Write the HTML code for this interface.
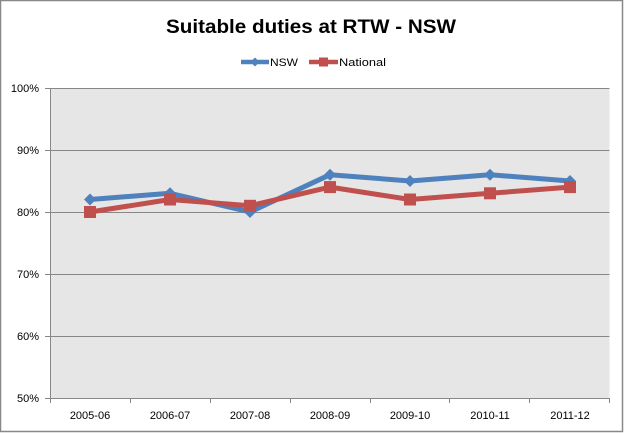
<!DOCTYPE html>
<html><head><meta charset="utf-8"><style>
html,body{margin:0;padding:0;background:#fff;}
svg{display:block;}
text{font-family:"Liberation Sans",sans-serif;}
</style></head><body>
<svg width="625" height="433" viewBox="0 0 625 433" xmlns="http://www.w3.org/2000/svg">
<rect x="0.5" y="0.5" width="622" height="431" fill="#fff" stroke="#888" stroke-width="1.5"/>
<text x="311" y="33" text-anchor="middle" font-size="19" font-weight="bold" fill="#000" textLength="290" lengthAdjust="spacingAndGlyphs">Suitable duties at RTW - NSW</text>
<!-- legend -->
<line x1="241" y1="62" x2="269" y2="62" stroke="#4F81BD" stroke-width="4.5"/>
<path d="M255 57.5 L259.5 62 L255 66.5 L250.5 62Z" fill="#4F81BD"/>
<text x="270" y="66" font-size="11" fill="#000" textLength="28" lengthAdjust="spacingAndGlyphs">NSW</text>
<line x1="309" y1="62" x2="338" y2="62" stroke="#C0504D" stroke-width="4.5"/>
<rect x="319" y="57.5" width="9" height="9" fill="#C0504D"/>
<text x="339" y="66" font-size="11" fill="#000" textLength="47" lengthAdjust="spacingAndGlyphs">National</text>
<!-- plot -->
<rect x="50" y="88" width="559.5" height="311" fill="#E6E6E6"/>
<g stroke="#878787" stroke-width="1">
<line x1="45" y1="88.5" x2="609.5" y2="88.5"/>
<line x1="45" y1="150.5" x2="609.5" y2="150.5"/>
<line x1="45" y1="212.5" x2="609.5" y2="212.5"/>
<line x1="45" y1="274.5" x2="609.5" y2="274.5"/>
<line x1="45" y1="336.5" x2="609.5" y2="336.5"/>
<line x1="45" y1="398.5" x2="609.5" y2="398.5"/>
<line x1="50.5" y1="88" x2="50.5" y2="403"/>
<line x1="130.5" y1="398" x2="130.5" y2="403"/>
<line x1="210.5" y1="398" x2="210.5" y2="403"/>
<line x1="290.5" y1="398" x2="290.5" y2="403"/>
<line x1="370.5" y1="398" x2="370.5" y2="403"/>
<line x1="449.5" y1="398" x2="449.5" y2="403"/>
<line x1="529.5" y1="398" x2="529.5" y2="403"/>
<line x1="609.5" y1="398" x2="609.5" y2="403"/>
</g>
<g font-size="11" fill="#000" text-anchor="end">
<text x="39" y="92">100%</text>
<text x="39" y="154">90%</text>
<text x="39" y="216">80%</text>
<text x="39" y="278">70%</text>
<text x="39" y="340">60%</text>
<text x="39" y="402">50%</text>
</g>
<g font-size="11" fill="#000" text-anchor="middle">
<text x="90" y="419">2005-06</text>
<text x="170" y="419">2006-07</text>
<text x="250" y="419">2007-08</text>
<text x="330" y="419">2008-09</text>
<text x="410" y="419">2009-10</text>
<text x="490" y="419">2010-11</text>
<text x="570" y="419">2011-12</text>
</g>
<!-- NSW: 82,83,80,86,85,86,85 -->
<polyline fill="none" stroke="#4F81BD" stroke-width="5" stroke-linejoin="round" points="90,199.5 170,193.3 250,212 330,174.7 410,181 490,174.7 570,181"/>
<g fill="#4F81BD">
<path d="M90 193.5 L96 199.5 L90 205.5 L84 199.5Z"/>
<path d="M170 187.3 L176 193.3 L170 199.3 L164 193.3Z"/>
<path d="M250 206 L256 212 L250 218 L244 212Z"/>
<path d="M330 168.7 L336 174.7 L330 180.7 L324 174.7Z"/>
<path d="M410 175 L416 181 L410 187 L404 181Z"/>
<path d="M490 168.7 L496 174.7 L490 180.7 L484 174.7Z"/>
<path d="M570 175 L576 181 L570 187 L564 181Z"/>
</g>
<!-- National: 80,82,81,84,82,83,84 -->
<polyline fill="none" stroke="#C0504D" stroke-width="5" stroke-linejoin="round" points="90,212 170,199.5 250,205.8 330,187.1 410,199.5 490,193.3 570,187.1"/>
<g fill="#C0504D">
<rect x="84" y="206" width="12" height="12"/>
<rect x="164" y="193.5" width="12" height="12"/>
<rect x="244" y="199.8" width="12" height="12"/>
<rect x="324" y="181.1" width="12" height="12"/>
<rect x="404" y="193.5" width="12" height="12"/>
<rect x="484" y="187.3" width="12" height="12"/>
<rect x="564" y="181.1" width="12" height="12"/>
</g>
</svg>
</body></html>
